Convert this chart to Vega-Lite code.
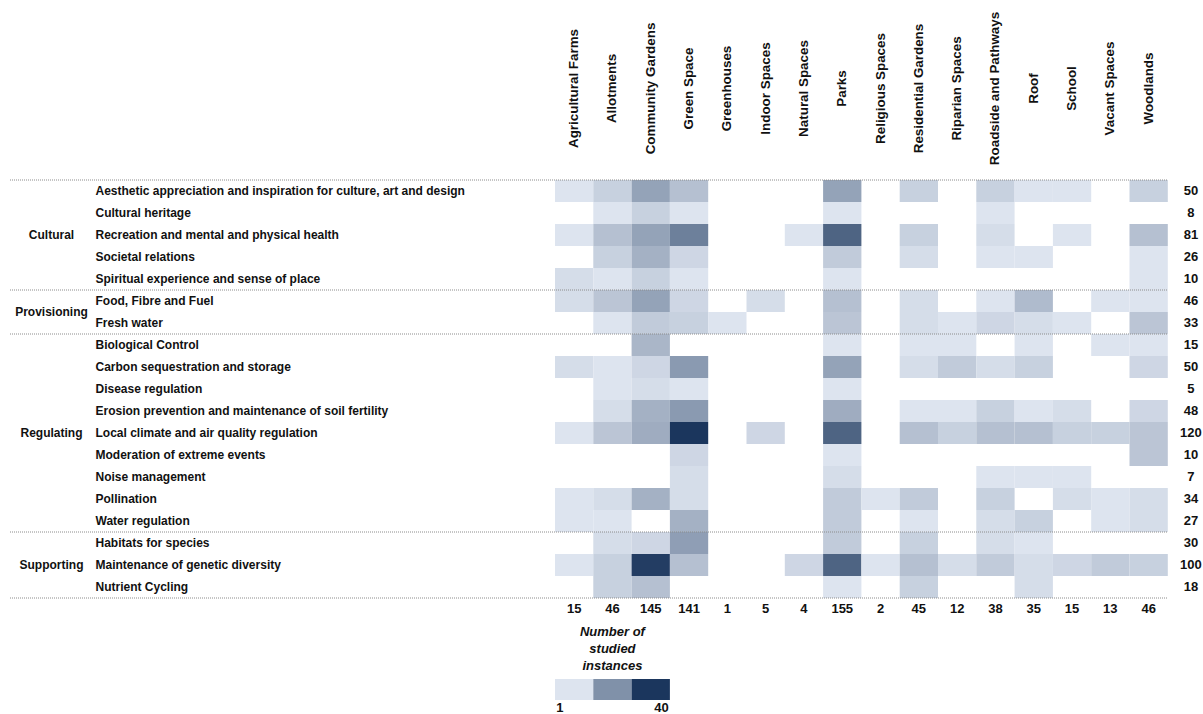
{
  "$schema": "https://vega.github.io/schema/vega-lite/v6.json",
  "width": 1157,
  "height": 714,
  "autosize": {"type": "none"},
  "padding": {"left": 10, "top": 0, "right": 36, "bottom": 0},
  "background": "white",
  "config": {"view": {"stroke": null}, "font": "Liberation Sans"},
  "datasets": {
    "cells": [
      {"service": "Aesthetic appreciation and inspiration for culture, art and design", "space": "Agricultural Farms", "n": 1},
      {"service": "Aesthetic appreciation and inspiration for culture, art and design", "space": "Allotments", "n": 4},
      {"service": "Aesthetic appreciation and inspiration for culture, art and design", "space": "Community Gardens", "n": 13},
      {"service": "Aesthetic appreciation and inspiration for culture, art and design", "space": "Green Space", "n": 7},
      {"service": "Aesthetic appreciation and inspiration for culture, art and design", "space": "Parks", "n": 13},
      {"service": "Aesthetic appreciation and inspiration for culture, art and design", "space": "Residential Gardens", "n": 4},
      {"service": "Aesthetic appreciation and inspiration for culture, art and design", "space": "Roadside and Pathways", "n": 4},
      {"service": "Aesthetic appreciation and inspiration for culture, art and design", "space": "Roof", "n": 1},
      {"service": "Aesthetic appreciation and inspiration for culture, art and design", "space": "School", "n": 1},
      {"service": "Aesthetic appreciation and inspiration for culture, art and design", "space": "Woodlands", "n": 4},
      {"service": "Cultural heritage", "space": "Allotments", "n": 1},
      {"service": "Cultural heritage", "space": "Community Gardens", "n": 4},
      {"service": "Cultural heritage", "space": "Green Space", "n": 1},
      {"service": "Cultural heritage", "space": "Parks", "n": 1},
      {"service": "Cultural heritage", "space": "Roadside and Pathways", "n": 1},
      {"service": "Recreation and mental and physical health", "space": "Agricultural Farms", "n": 1},
      {"service": "Recreation and mental and physical health", "space": "Allotments", "n": 7},
      {"service": "Recreation and mental and physical health", "space": "Community Gardens", "n": 13},
      {"service": "Recreation and mental and physical health", "space": "Green Space", "n": 21},
      {"service": "Recreation and mental and physical health", "space": "Natural Spaces", "n": 1},
      {"service": "Recreation and mental and physical health", "space": "Parks", "n": 28},
      {"service": "Recreation and mental and physical health", "space": "Residential Gardens", "n": 4},
      {"service": "Recreation and mental and physical health", "space": "Roadside and Pathways", "n": 2},
      {"service": "Recreation and mental and physical health", "space": "School", "n": 1},
      {"service": "Recreation and mental and physical health", "space": "Woodlands", "n": 7},
      {"service": "Societal relations", "space": "Allotments", "n": 4},
      {"service": "Societal relations", "space": "Community Gardens", "n": 10},
      {"service": "Societal relations", "space": "Green Space", "n": 3},
      {"service": "Societal relations", "space": "Parks", "n": 5},
      {"service": "Societal relations", "space": "Residential Gardens", "n": 2},
      {"service": "Societal relations", "space": "Roadside and Pathways", "n": 1},
      {"service": "Societal relations", "space": "Roof", "n": 1},
      {"service": "Societal relations", "space": "Woodlands", "n": 1},
      {"service": "Spiritual experience and sense of place", "space": "Agricultural Farms", "n": 2},
      {"service": "Spiritual experience and sense of place", "space": "Allotments", "n": 1},
      {"service": "Spiritual experience and sense of place", "space": "Community Gardens", "n": 4},
      {"service": "Spiritual experience and sense of place", "space": "Green Space", "n": 1},
      {"service": "Spiritual experience and sense of place", "space": "Parks", "n": 1},
      {"service": "Spiritual experience and sense of place", "space": "Woodlands", "n": 1},
      {"service": "Food, Fibre and Fuel", "space": "Agricultural Farms", "n": 2},
      {"service": "Food, Fibre and Fuel", "space": "Allotments", "n": 6},
      {"service": "Food, Fibre and Fuel", "space": "Community Gardens", "n": 13},
      {"service": "Food, Fibre and Fuel", "space": "Green Space", "n": 3},
      {"service": "Food, Fibre and Fuel", "space": "Indoor Spaces", "n": 2},
      {"service": "Food, Fibre and Fuel", "space": "Parks", "n": 7},
      {"service": "Food, Fibre and Fuel", "space": "Residential Gardens", "n": 2},
      {"service": "Food, Fibre and Fuel", "space": "Roadside and Pathways", "n": 1},
      {"service": "Food, Fibre and Fuel", "space": "Roof", "n": 8},
      {"service": "Food, Fibre and Fuel", "space": "Vacant Spaces", "n": 1},
      {"service": "Food, Fibre and Fuel", "space": "Woodlands", "n": 1},
      {"service": "Fresh water", "space": "Allotments", "n": 1},
      {"service": "Fresh water", "space": "Community Gardens", "n": 5},
      {"service": "Fresh water", "space": "Green Space", "n": 4},
      {"service": "Fresh water", "space": "Greenhouses", "n": 1},
      {"service": "Fresh water", "space": "Parks", "n": 6},
      {"service": "Fresh water", "space": "Residential Gardens", "n": 2},
      {"service": "Fresh water", "space": "Riparian Spaces", "n": 1},
      {"service": "Fresh water", "space": "Roadside and Pathways", "n": 3},
      {"service": "Fresh water", "space": "Roof", "n": 2},
      {"service": "Fresh water", "space": "School", "n": 1},
      {"service": "Fresh water", "space": "Woodlands", "n": 6},
      {"service": "Biological Control", "space": "Community Gardens", "n": 9},
      {"service": "Biological Control", "space": "Parks", "n": 1},
      {"service": "Biological Control", "space": "Residential Gardens", "n": 1},
      {"service": "Biological Control", "space": "Riparian Spaces", "n": 1},
      {"service": "Biological Control", "space": "Roof", "n": 1},
      {"service": "Biological Control", "space": "Vacant Spaces", "n": 1},
      {"service": "Biological Control", "space": "Woodlands", "n": 1},
      {"service": "Carbon sequestration and storage", "space": "Agricultural Farms", "n": 2},
      {"service": "Carbon sequestration and storage", "space": "Allotments", "n": 1},
      {"service": "Carbon sequestration and storage", "space": "Community Gardens", "n": 3},
      {"service": "Carbon sequestration and storage", "space": "Green Space", "n": 15},
      {"service": "Carbon sequestration and storage", "space": "Parks", "n": 13},
      {"service": "Carbon sequestration and storage", "space": "Residential Gardens", "n": 2},
      {"service": "Carbon sequestration and storage", "space": "Riparian Spaces", "n": 5},
      {"service": "Carbon sequestration and storage", "space": "Roadside and Pathways", "n": 2},
      {"service": "Carbon sequestration and storage", "space": "Roof", "n": 4},
      {"service": "Carbon sequestration and storage", "space": "Woodlands", "n": 3},
      {"service": "Disease regulation", "space": "Allotments", "n": 1},
      {"service": "Disease regulation", "space": "Community Gardens", "n": 2},
      {"service": "Disease regulation", "space": "Green Space", "n": 1},
      {"service": "Disease regulation", "space": "Parks", "n": 1},
      {"service": "Erosion prevention and maintenance of soil fertility", "space": "Allotments", "n": 2},
      {"service": "Erosion prevention and maintenance of soil fertility", "space": "Community Gardens", "n": 10},
      {"service": "Erosion prevention and maintenance of soil fertility", "space": "Green Space", "n": 15},
      {"service": "Erosion prevention and maintenance of soil fertility", "space": "Parks", "n": 11},
      {"service": "Erosion prevention and maintenance of soil fertility", "space": "Residential Gardens", "n": 1},
      {"service": "Erosion prevention and maintenance of soil fertility", "space": "Riparian Spaces", "n": 1},
      {"service": "Erosion prevention and maintenance of soil fertility", "space": "Roadside and Pathways", "n": 4},
      {"service": "Erosion prevention and maintenance of soil fertility", "space": "Roof", "n": 1},
      {"service": "Erosion prevention and maintenance of soil fertility", "space": "School", "n": 2},
      {"service": "Erosion prevention and maintenance of soil fertility", "space": "Woodlands", "n": 3},
      {"service": "Local climate and air quality regulation", "space": "Agricultural Farms", "n": 1},
      {"service": "Local climate and air quality regulation", "space": "Allotments", "n": 6},
      {"service": "Local climate and air quality regulation", "space": "Community Gardens", "n": 11},
      {"service": "Local climate and air quality regulation", "space": "Green Space", "n": 40},
      {"service": "Local climate and air quality regulation", "space": "Indoor Spaces", "n": 3},
      {"service": "Local climate and air quality regulation", "space": "Parks", "n": 28},
      {"service": "Local climate and air quality regulation", "space": "Residential Gardens", "n": 7},
      {"service": "Local climate and air quality regulation", "space": "Riparian Spaces", "n": 4},
      {"service": "Local climate and air quality regulation", "space": "Roadside and Pathways", "n": 7},
      {"service": "Local climate and air quality regulation", "space": "Roof", "n": 7},
      {"service": "Local climate and air quality regulation", "space": "School", "n": 4},
      {"service": "Local climate and air quality regulation", "space": "Vacant Spaces", "n": 4},
      {"service": "Local climate and air quality regulation", "space": "Woodlands", "n": 6},
      {"service": "Moderation of extreme events", "space": "Green Space", "n": 3},
      {"service": "Moderation of extreme events", "space": "Parks", "n": 1},
      {"service": "Moderation of extreme events", "space": "Woodlands", "n": 6},
      {"service": "Noise management", "space": "Green Space", "n": 2},
      {"service": "Noise management", "space": "Parks", "n": 2},
      {"service": "Noise management", "space": "Roadside and Pathways", "n": 1},
      {"service": "Noise management", "space": "Roof", "n": 1},
      {"service": "Noise management", "space": "School", "n": 1},
      {"service": "Pollination", "space": "Agricultural Farms", "n": 1},
      {"service": "Pollination", "space": "Allotments", "n": 2},
      {"service": "Pollination", "space": "Community Gardens", "n": 10},
      {"service": "Pollination", "space": "Green Space", "n": 2},
      {"service": "Pollination", "space": "Parks", "n": 5},
      {"service": "Pollination", "space": "Religious Spaces", "n": 1},
      {"service": "Pollination", "space": "Residential Gardens", "n": 5},
      {"service": "Pollination", "space": "Roadside and Pathways", "n": 4},
      {"service": "Pollination", "space": "School", "n": 2},
      {"service": "Pollination", "space": "Vacant Spaces", "n": 1},
      {"service": "Pollination", "space": "Woodlands", "n": 2},
      {"service": "Water regulation", "space": "Agricultural Farms", "n": 1},
      {"service": "Water regulation", "space": "Allotments", "n": 1},
      {"service": "Water regulation", "space": "Green Space", "n": 10},
      {"service": "Water regulation", "space": "Parks", "n": 5},
      {"service": "Water regulation", "space": "Residential Gardens", "n": 1},
      {"service": "Water regulation", "space": "Roadside and Pathways", "n": 2},
      {"service": "Water regulation", "space": "Roof", "n": 4},
      {"service": "Water regulation", "space": "Vacant Spaces", "n": 1},
      {"service": "Water regulation", "space": "Woodlands", "n": 2},
      {"service": "Habitats for species", "space": "Allotments", "n": 2},
      {"service": "Habitats for species", "space": "Community Gardens", "n": 3},
      {"service": "Habitats for species", "space": "Green Space", "n": 14},
      {"service": "Habitats for species", "space": "Parks", "n": 5},
      {"service": "Habitats for species", "space": "Residential Gardens", "n": 4},
      {"service": "Habitats for species", "space": "Roadside and Pathways", "n": 2},
      {"service": "Habitats for species", "space": "Roof", "n": 1},
      {"service": "Maintenance of genetic diversity", "space": "Agricultural Farms", "n": 1},
      {"service": "Maintenance of genetic diversity", "space": "Allotments", "n": 4},
      {"service": "Maintenance of genetic diversity", "space": "Community Gardens", "n": 38},
      {"service": "Maintenance of genetic diversity", "space": "Green Space", "n": 7},
      {"service": "Maintenance of genetic diversity", "space": "Natural Spaces", "n": 3},
      {"service": "Maintenance of genetic diversity", "space": "Parks", "n": 28},
      {"service": "Maintenance of genetic diversity", "space": "Religious Spaces", "n": 1},
      {"service": "Maintenance of genetic diversity", "space": "Residential Gardens", "n": 7},
      {"service": "Maintenance of genetic diversity", "space": "Riparian Spaces", "n": 2},
      {"service": "Maintenance of genetic diversity", "space": "Roadside and Pathways", "n": 5},
      {"service": "Maintenance of genetic diversity", "space": "Roof", "n": 2},
      {"service": "Maintenance of genetic diversity", "space": "School", "n": 3},
      {"service": "Maintenance of genetic diversity", "space": "Vacant Spaces", "n": 5},
      {"service": "Maintenance of genetic diversity", "space": "Woodlands", "n": 4},
      {"service": "Nutrient Cycling", "space": "Allotments", "n": 4},
      {"service": "Nutrient Cycling", "space": "Community Gardens", "n": 7},
      {"service": "Nutrient Cycling", "space": "Parks", "n": 1},
      {"service": "Nutrient Cycling", "space": "Residential Gardens", "n": 4},
      {"service": "Nutrient Cycling", "space": "Roof", "n": 2}
    ],
    "rowTotals": [
      {"service": "Aesthetic appreciation and inspiration for culture, art and design", "total": 50},
      {"service": "Cultural heritage", "total": 8},
      {"service": "Recreation and mental and physical health", "total": 81},
      {"service": "Societal relations", "total": 26},
      {"service": "Spiritual experience and sense of place", "total": 10},
      {"service": "Food, Fibre and Fuel", "total": 46},
      {"service": "Fresh water", "total": 33},
      {"service": "Biological Control", "total": 15},
      {"service": "Carbon sequestration and storage", "total": 50},
      {"service": "Disease regulation", "total": 5},
      {"service": "Erosion prevention and maintenance of soil fertility", "total": 48},
      {"service": "Local climate and air quality regulation", "total": 120},
      {"service": "Moderation of extreme events", "total": 10},
      {"service": "Noise management", "total": 7},
      {"service": "Pollination", "total": 34},
      {"service": "Water regulation", "total": 27},
      {"service": "Habitats for species", "total": 30},
      {"service": "Maintenance of genetic diversity", "total": 100},
      {"service": "Nutrient Cycling", "total": 18}
    ],
    "colTotals": [
      {"space": "Agricultural Farms", "total": 15},
      {"space": "Allotments", "total": 46},
      {"space": "Community Gardens", "total": 145},
      {"space": "Green Space", "total": 141},
      {"space": "Greenhouses", "total": 1},
      {"space": "Indoor Spaces", "total": 5},
      {"space": "Natural Spaces", "total": 4},
      {"space": "Parks", "total": 155},
      {"space": "Religious Spaces", "total": 2},
      {"space": "Residential Gardens", "total": 45},
      {"space": "Riparian Spaces", "total": 12},
      {"space": "Roadside and Pathways", "total": 38},
      {"space": "Roof", "total": 35},
      {"space": "School", "total": 15},
      {"space": "Vacant Spaces", "total": 13},
      {"space": "Woodlands", "total": 46}
    ],
    "categories": [
      {"category": "Cultural", "services": 5, "anchor": "Recreation and mental and physical health"},
      {"category": "Provisioning", "services": 2, "anchor": "Fresh water"},
      {"category": "Regulating", "services": 9, "anchor": "Local climate and air quality regulation"},
      {"category": "Supporting", "services": 3, "anchor": "Maintenance of genetic diversity"}
    ],
    "boundaries": [
      {"startsAt": "Aesthetic appreciation and inspiration for culture, art and design"},
      {"startsAt": "Food, Fibre and Fuel"},
      {"startsAt": "Biological Control"},
      {"startsAt": "Habitats for species"},
      {"startsAt": "Total"}
    ],
    "legend": [
      {"space": "Agricultural Farms", "value": 1, "label": "1"},
      {"space": "Allotments", "value": 17, "label": ""},
      {"space": "Community Gardens", "value": 40, "label": "40"}
    ]
  },
  "layer": [
    {
      "data": {"name": "cells"},
      "mark": {"type": "rect"},
      "encoding": {
        "x": {
          "field": "space", "type": "nominal",
          "scale": {"domain": ["Agricultural Farms", "Allotments", "Community Gardens", "Green Space", "Greenhouses", "Indoor Spaces", "Natural Spaces", "Parks", "Religious Spaces", "Residential Gardens", "Riparian Spaces", "Roadside and Pathways", "Roof", "School", "Vacant Spaces", "Woodlands", "Total"], "range": [545, 1196.1], "paddingInner": 0, "paddingOuter": 0},
          "axis": {"orient": "top", "offset": -180, "title": null, "domain": false, "ticks": false, "tickSize": 0, "labelAngle": -90, "labelAlign": "center", "labelBaseline": "middle", "labelPadding": 92, "labelFont": "Liberation Sans", "labelFontSize": 13.4, "labelFontWeight": "bold", "labelColor": "#111111", "labelLimit": 0, "labelOverlap": false, "labelExpr": "datum.value == 'Total' ? '' : datum.value"}
        },
        "y": {
          "field": "service", "type": "nominal",
          "scale": {"domain": ["Aesthetic appreciation and inspiration for culture, art and design", "Cultural heritage", "Recreation and mental and physical health", "Societal relations", "Spiritual experience and sense of place", "Food, Fibre and Fuel", "Fresh water", "Biological Control", "Carbon sequestration and storage", "Disease regulation", "Erosion prevention and maintenance of soil fertility", "Local climate and air quality regulation", "Moderation of extreme events", "Noise management", "Pollination", "Water regulation", "Habitats for species", "Maintenance of genetic diversity", "Nutrient Cycling", "Total"], "range": [180, 620], "paddingInner": 0, "paddingOuter": 0},
          "axis": {"orient": "left", "offset": -85, "title": null, "domain": false, "ticks": false, "tickSize": 0, "labelAlign": "left", "labelBaseline": "middle", "labelPadding": 0, "labelFont": "Liberation Sans", "labelFontSize": 12, "labelFontWeight": "bold", "labelColor": "#111111", "labelLimit": 0, "labelOverlap": false, "labelExpr": "datum.value == 'Total' ? '' : datum.value"}
        },
        "color": {
          "field": "n", "type": "quantitative",
          "scale": {"type": "pow", "exponent": 0.8, "domain": [1, 40], "range": ["#dde4ef", "#1b365d"], "interpolate": "rgb"},
          "legend": null
        }
      }
    },
    {
      "data": {"name": "rowTotals"},
      "mark": {"type": "text", "font": "Liberation Sans", "fontSize": 13, "fontWeight": "bold", "color": "#111111", "align": "center", "baseline": "middle"},
      "encoding": {
        "x": {
          "datum": "Total", "type": "nominal",
          "scale": {"domain": ["Agricultural Farms", "Allotments", "Community Gardens", "Green Space", "Greenhouses", "Indoor Spaces", "Natural Spaces", "Parks", "Religious Spaces", "Residential Gardens", "Riparian Spaces", "Roadside and Pathways", "Roof", "School", "Vacant Spaces", "Woodlands", "Total"], "range": [549, 1200.1], "paddingInner": 0, "paddingOuter": 0},
          "axis": null
        },
        "y": {
          "field": "service", "type": "nominal",
          "scale": {"domain": ["Aesthetic appreciation and inspiration for culture, art and design", "Cultural heritage", "Recreation and mental and physical health", "Societal relations", "Spiritual experience and sense of place", "Food, Fibre and Fuel", "Fresh water", "Biological Control", "Carbon sequestration and storage", "Disease regulation", "Erosion prevention and maintenance of soil fertility", "Local climate and air quality regulation", "Moderation of extreme events", "Noise management", "Pollination", "Water regulation", "Habitats for species", "Maintenance of genetic diversity", "Nutrient Cycling", "Total"], "range": [180, 620], "paddingInner": 0, "paddingOuter": 0},
          "axis": null
        },
        "text": {"field": "total", "type": "quantitative"}
      }
    },
    {
      "data": {"name": "colTotals"},
      "mark": {"type": "text", "font": "Liberation Sans", "fontSize": 13, "fontWeight": "bold", "color": "#111111", "align": "center", "baseline": "middle"},
      "encoding": {
        "x": {
          "field": "space", "type": "nominal",
          "scale": {"domain": ["Agricultural Farms", "Allotments", "Community Gardens", "Green Space", "Greenhouses", "Indoor Spaces", "Natural Spaces", "Parks", "Religious Spaces", "Residential Gardens", "Riparian Spaces", "Roadside and Pathways", "Roof", "School", "Vacant Spaces", "Woodlands", "Total"], "range": [545, 1196.1], "paddingInner": 0, "paddingOuter": 0},
          "axis": null
        },
        "y": {
          "datum": "Total", "type": "nominal",
          "scale": {"domain": ["Aesthetic appreciation and inspiration for culture, art and design", "Cultural heritage", "Recreation and mental and physical health", "Societal relations", "Spiritual experience and sense of place", "Food, Fibre and Fuel", "Fresh water", "Biological Control", "Carbon sequestration and storage", "Disease regulation", "Erosion prevention and maintenance of soil fertility", "Local climate and air quality regulation", "Moderation of extreme events", "Noise management", "Pollination", "Water regulation", "Habitats for species", "Maintenance of genetic diversity", "Nutrient Cycling", "Total"], "range": [180, 620], "paddingInner": 0, "paddingOuter": 0},
          "axis": null
        },
        "text": {"field": "total", "type": "quantitative"}
      }
    },
    {
      "data": {"name": "boundaries"},
      "mark": {"type": "rule", "color": "#8c8c8c", "strokeWidth": 1, "strokeDash": [1, 1]},
      "encoding": {
        "y": {
          "field": "startsAt", "type": "nominal", "bandPosition": 0,
          "scale": {"domain": ["Aesthetic appreciation and inspiration for culture, art and design", "Cultural heritage", "Recreation and mental and physical health", "Societal relations", "Spiritual experience and sense of place", "Food, Fibre and Fuel", "Fresh water", "Biological Control", "Carbon sequestration and storage", "Disease regulation", "Erosion prevention and maintenance of soil fertility", "Local climate and air quality regulation", "Moderation of extreme events", "Noise management", "Pollination", "Water regulation", "Habitats for species", "Maintenance of genetic diversity", "Nutrient Cycling", "Total"], "range": [180, 620], "paddingInner": 0, "paddingOuter": 0},
          "axis": null
        }
      }
    },
    {
      "data": {"name": "categories"},
      "transform": [{"filter": "datum.services % 2 == 1"}],
      "mark": {"type": "text", "font": "Liberation Sans", "fontSize": 12, "fontWeight": "bold", "color": "#111111", "align": "center", "baseline": "middle"},
      "encoding": {
        "x": {"datum": "Category", "type": "nominal", "scale": {"domain": ["Category"], "range": [0, 83], "paddingInner": 0, "paddingOuter": 0}, "axis": null},
        "y": {
          "field": "anchor", "type": "nominal",
          "scale": {"domain": ["Aesthetic appreciation and inspiration for culture, art and design", "Cultural heritage", "Recreation and mental and physical health", "Societal relations", "Spiritual experience and sense of place", "Food, Fibre and Fuel", "Fresh water", "Biological Control", "Carbon sequestration and storage", "Disease regulation", "Erosion prevention and maintenance of soil fertility", "Local climate and air quality regulation", "Moderation of extreme events", "Noise management", "Pollination", "Water regulation", "Habitats for species", "Maintenance of genetic diversity", "Nutrient Cycling", "Total"], "range": [180, 620], "paddingInner": 0, "paddingOuter": 0},
          "axis": null
        },
        "text": {"field": "category", "type": "nominal"}
      }
    },
    {
      "data": {"name": "categories"},
      "transform": [{"filter": "datum.services % 2 == 0"}],
      "mark": {"type": "text", "font": "Liberation Sans", "fontSize": 12, "fontWeight": "bold", "color": "#111111", "align": "center", "baseline": "middle"},
      "encoding": {
        "x": {"datum": "Category", "type": "nominal", "scale": {"domain": ["Category"], "range": [0, 83], "paddingInner": 0, "paddingOuter": 0}, "axis": null},
        "y": {
          "field": "anchor", "type": "nominal",
          "scale": {"domain": ["Aesthetic appreciation and inspiration for culture, art and design", "Cultural heritage", "Recreation and mental and physical health", "Societal relations", "Spiritual experience and sense of place", "Food, Fibre and Fuel", "Fresh water", "Biological Control", "Carbon sequestration and storage", "Disease regulation", "Erosion prevention and maintenance of soil fertility", "Local climate and air quality regulation", "Moderation of extreme events", "Noise management", "Pollination", "Water regulation", "Habitats for species", "Maintenance of genetic diversity", "Nutrient Cycling", "Total"], "range": [169, 609], "paddingInner": 0, "paddingOuter": 0},
          "axis": null
        },
        "text": {"field": "category", "type": "nominal"}
      }
    },
    {
      "data": {"name": "legend"},
      "mark": {"type": "rect"},
      "encoding": {
        "x": {
          "field": "space", "type": "nominal",
          "scale": {"domain": ["Agricultural Farms", "Allotments", "Community Gardens", "Green Space", "Greenhouses", "Indoor Spaces", "Natural Spaces", "Parks", "Religious Spaces", "Residential Gardens", "Riparian Spaces", "Roadside and Pathways", "Roof", "School", "Vacant Spaces", "Woodlands", "Total"], "range": [545, 1196.1], "paddingInner": 0, "paddingOuter": 0},
          "axis": null
        },
        "y": {"datum": "swatch", "type": "nominal", "scale": {"domain": ["swatch"], "range": [679, 700], "paddingInner": 0, "paddingOuter": 0}, "axis": null},
        "color": {
          "field": "value", "type": "quantitative",
          "scale": {"type": "pow", "exponent": 0.8, "domain": [1, 40], "range": ["#dde4ef", "#1b365d"], "interpolate": "rgb"},
          "legend": null
        }
      }
    },
    {
      "data": {"name": "legend"},
      "transform": [{"filter": "datum.space == 'Allotments'"}],
      "mark": {"type": "text", "text": ["Number of", "studied", "instances"], "lineHeight": 17, "font": "Liberation Sans", "fontSize": 13, "fontWeight": "bold", "fontStyle": "italic", "color": "#111111", "align": "center", "baseline": "middle"},
      "encoding": {
        "x": {
          "field": "space", "type": "nominal",
          "scale": {"domain": ["Agricultural Farms", "Allotments", "Community Gardens", "Green Space", "Greenhouses", "Indoor Spaces", "Natural Spaces", "Parks", "Religious Spaces", "Residential Gardens", "Riparian Spaces", "Roadside and Pathways", "Roof", "School", "Vacant Spaces", "Woodlands", "Total"], "range": [545, 1196.1], "paddingInner": 0, "paddingOuter": 0},
          "axis": null
        },
        "y": {"datum": "title", "type": "nominal", "scale": {"domain": ["title"], "range": [622, 642], "paddingInner": 0, "paddingOuter": 0}, "axis": null}
      }
    },
    {
      "data": {"name": "legend"},
      "transform": [{"filter": "datum.label == '1'"}],
      "mark": {"type": "text", "font": "Liberation Sans", "fontSize": 13, "fontWeight": "bold", "color": "#111111", "align": "left", "baseline": "middle"},
      "encoding": {
        "x": {
          "field": "space", "type": "nominal",
          "scale": {"domain": ["Agricultural Farms", "Allotments", "Community Gardens", "Green Space", "Greenhouses", "Indoor Spaces", "Natural Spaces", "Parks", "Religious Spaces", "Residential Gardens", "Riparian Spaces", "Roadside and Pathways", "Roof", "School", "Vacant Spaces", "Woodlands", "Total"], "range": [527, 1178.1], "paddingInner": 0, "paddingOuter": 0},
          "axis": null
        },
        "y": {"datum": "labels", "type": "nominal", "scale": {"domain": ["labels"], "range": [700, 716], "paddingInner": 0, "paddingOuter": 0}, "axis": null},
        "text": {"field": "label", "type": "nominal"}
      }
    },
    {
      "data": {"name": "legend"},
      "transform": [{"filter": "datum.label == '40'"}],
      "mark": {"type": "text", "font": "Liberation Sans", "fontSize": 13, "fontWeight": "bold", "color": "#111111", "align": "right", "baseline": "middle"},
      "encoding": {
        "x": {
          "field": "space", "type": "nominal",
          "scale": {"domain": ["Agricultural Farms", "Allotments", "Community Gardens", "Green Space", "Greenhouses", "Indoor Spaces", "Natural Spaces", "Parks", "Religious Spaces", "Residential Gardens", "Riparian Spaces", "Roadside and Pathways", "Roof", "School", "Vacant Spaces", "Woodlands", "Total"], "range": [563, 1214.1], "paddingInner": 0, "paddingOuter": 0},
          "axis": null
        },
        "y": {"datum": "labels", "type": "nominal", "scale": {"domain": ["labels"], "range": [700, 716], "paddingInner": 0, "paddingOuter": 0}, "axis": null},
        "text": {"field": "label", "type": "nominal"}
      }
    }
  ],
  "resolve": {"scale": {"x": "independent", "y": "independent"}}
}
